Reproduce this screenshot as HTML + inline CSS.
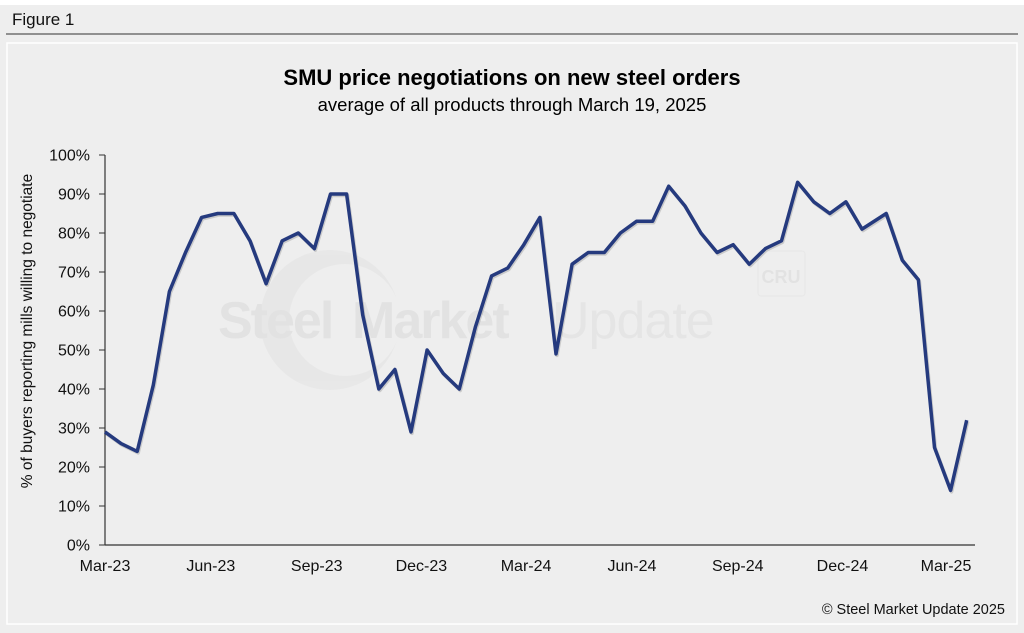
<!DOCTYPE html>
<html><head><meta charset="utf-8"><style>
html,body{margin:0;padding:0;background:#fff;}
#wrap{position:relative;width:1024px;height:633px;background:#fff;overflow:hidden;font-family:"Liberation Sans",Arial,sans-serif;}
</style></head><body>
<div id="wrap">
<svg id="chart" width="1024" height="633" xmlns="http://www.w3.org/2000/svg">
<rect x="0" y="5" width="1024" height="628" fill="#eeeeee"/>
<text x="12" y="25" font-size="17" fill="#111">Figure 1</text>
<line x1="6" y1="34" x2="1018" y2="34" stroke="#333" stroke-width="1"/>
<rect x="7" y="43" width="1010" height="581" fill="#eeeeee" stroke="#ffffff" stroke-width="1.5"/>
<g opacity="0.55">
<circle cx="330" cy="320" r="70" fill="#e3e3e3"/>
<circle cx="345" cy="320" r="56" fill="#eeeeee"/>
<text x="218" y="338" font-size="52" font-weight="bold" fill="#dadada" letter-spacing="-2">Steel</text>
<text x="352" y="338" font-size="52" font-weight="bold" fill="#dadada" letter-spacing="-2">Market</text>
<text x="552" y="338" font-size="52" fill="#dedede" letter-spacing="-1">Update</text>
<rect x="758" y="251" width="47" height="45" rx="3" fill="none" stroke="#e2e2e2"/>
<text x="781" y="283" font-size="18" font-weight="bold" fill="#dadada" text-anchor="middle">CRU</text>
</g>
<text x="512" y="85" font-size="22" font-weight="bold" text-anchor="middle" fill="#000">SMU price negotiations on new steel orders</text>
<text x="512" y="111" font-size="18.5" text-anchor="middle" fill="#000">average of all products through March 19, 2025</text>
<text transform="translate(32,331) rotate(-90)" font-size="15.5" text-anchor="middle" fill="#111">% of buyers reporting mills willing to negotiate</text>
<g id="axes"></g>
<g id="series"></g>
<text x="1005" y="614" font-size="14.5" text-anchor="end" fill="#111">© Steel Market Update 2025</text>
</svg>
</div>
<script>
// days since 2023-03-01
const days = [0,14,28,42,56,70,84,98,112,126,140,154,168,182,196,210,224,238,252,266,280,294,308,322,336,350,364,378,392,406,420,434,448,462,476,490,504,518,532,546,560,574,588,602,616,630,644,658,679,693,707,721,735,749];
const values = [29,26,24,41,65,75,84,85,85,78,67,78,80,76,90,90,59,40,45,29,50,44,40,56,69,71,77,84,49,72,75,75,80,83,83,92,87,80,75,77,72,76,78,93,88,85,88,81,85,73,68,25,14,32];
const xTickDays = [0,92,184,275,366,458,550,641,731];
const xTickLabels = ["Mar-23","Jun-23","Sep-23","Dec-23","Mar-24","Jun-24","Sep-24","Dec-24","Mar-25"];
const yTicks = [0,10,20,30,40,50,60,70,80,90,100];

const NS="http://www.w3.org/2000/svg";
const X0=105, XPD=(946-105)/731;
const Y0=545, YPP=3.9;
function xs(d){return X0+d*XPD;}
function ys(v){return Y0-v*YPP;}
const axes=document.getElementById('axes');
function mk(tag,attrs,parent){const e=document.createElementNS(NS,tag);for(const k in attrs)e.setAttribute(k,attrs[k]);parent.appendChild(e);return e;}

const ya=mk('line',{x1:X0,y1:ys(100),x2:X0,y2:Y0,stroke:'#333','stroke-width':1.2},axes);


const xa=mk('line',{x1:X0,y1:Y0,x2:975,y2:Y0,stroke:'#333','stroke-width':1.2},axes);


yTicks.forEach(v=>{
  const t=mk('line',{x1:X0-6,y1:ys(v),x2:X0,y2:ys(v),stroke:'#333','stroke-width':1},axes);
  
  
  const l=mk('text',{x:X0-15,y:ys(v)+5.5,'font-size':16,'text-anchor':'end',fill:'#111'},axes);
  l.textContent=v+'%';
  
  
});
xTickDays.forEach((d,i)=>{
  const l=mk('text',{x:xs(d),y:571,'font-size':16,'text-anchor':'middle',fill:'#111'},axes);
  l.textContent=xTickLabels[i];
  
  
});
const pts=days.map((d,i)=>xs(d).toFixed(1)+','+ys(values[i]).toFixed(1)).join(' ');
const sh=mk('polyline',{points:pts,fill:'none',stroke:'rgba(0,0,0,0.15)','stroke-width':3.5,'stroke-linejoin':'round',transform:'translate(1,1.5)'},document.getElementById('series'));


const pl=mk('polyline',{points:pts,fill:'none',stroke:'#253a7e','stroke-width':3.5,'stroke-linejoin':'round'},document.getElementById('series'));


</script>
</body></html>
